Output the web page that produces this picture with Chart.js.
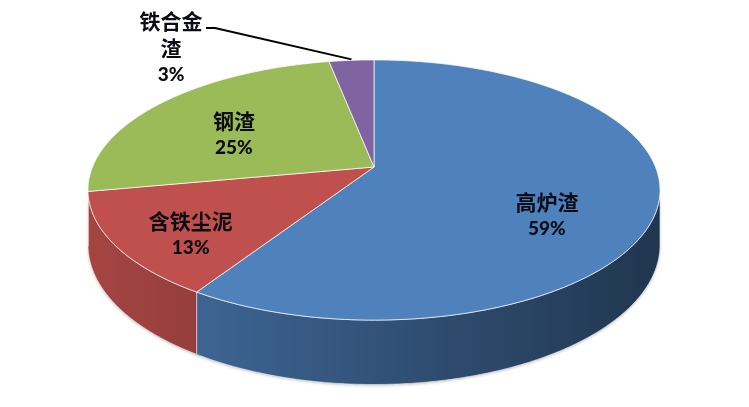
<!DOCTYPE html>
<html>
<head>
<meta charset="utf-8">
<script src="https://cdn.jsdelivr.net/npm/chart.js@4.4.1/dist/chart.umd.min.js"></script>
<style>
  html, body { margin: 0; background: #fff; }
  #wrap { width: 749px; height: 407px; }
</style>
</head>
<body>
<div id="wrap"><canvas id="pie" width="749" height="407"></canvas></div>
<script>
// --- data ---
const categories = ["高炉渣", "含铁尘泥", "钢渣", "铁合金渣"];
const percents = [59, 13, 25, 3];
const labelLines = [["高炉渣"], ["含铁尘泥"], ["钢渣"], ["铁合金", "渣"]];

// --- look ---
const topColors = ["#4f81bd", "#c0504d", "#9bbb59", "#8064a2"];

// tilted disc seen in perspective (fitted to the picture)
const view = { cx: 374, cy: 167, A: 126, B: 281.5, k: 0.177, T: 53 };

// where each label sits: radius on the disc + vertical nudge, or fixed spot outside
const labelSpot = [
  { r: 0.62, dy: 26 },
  { r: 0.73, dy: 12 },
  { r: 0.64, dy: 10 },
  { x: 171, y: 48, leader: [[206, 28], [215, 28]] }
];

function proj(a, r, h) {
  const x = Math.cos(a) * r, z = Math.sin(a) * r;
  const s = 1 / (1 - view.k * z);
  return [view.cx + view.B * x * s, view.cy + view.A * z * s + h * view.T * s];
}

function hexRgb(hex) {
  const n = parseInt(hex.slice(1), 16);
  return [(n >> 16) & 255, (n >> 8) & 255, n & 255];
}

function shade(hex, f) {
  const c = hexRgb(hex).map(v => Math.round(v * f));
  return `rgb(${c[0]},${c[1]},${c[2]})`;
}

function arcPoints(a0, a1, r, h) {
  const pts = [];
  const n = Math.max(2, Math.ceil(Math.abs(a1 - a0) / 0.01));
  for (let i = 0; i <= n; i++) pts.push(proj(a0 + (a1 - a0) * i / n, r, h));
  return pts;
}

const pie3d = {
  id: "pie3d",
  beforeDatasetsDraw(chart) {
    const ctx = chart.ctx;
    const arcs = chart.getDatasetMeta(0).data;
    const lo = Math.asin(view.k), hi = Math.PI - Math.asin(view.k);
    const left = proj(Math.PI - lo, 1, 0)[0], right = proj(lo, 1, 0)[0];

    ctx.save();
    // outer walls, only the part that faces us
    arcs.forEach((arc, i) => {
      const a0 = Math.max(arc.startAngle, lo), a1 = Math.min(arc.endAngle, hi);
      if (a1 <= a0) return;
      const top = arcPoints(a0, a1, 1, 0);
      const bot = arcPoints(a0, a1, 1, 1).reverse();
      ctx.beginPath();
      top.concat(bot).forEach((p, j) => j ? ctx.lineTo(p[0], p[1]) : ctx.moveTo(p[0], p[1]));
      ctx.closePath();
      const g = ctx.createLinearGradient(left, 0, right, 0);
      g.addColorStop(0, shade(topColors[i], 0.86));
      g.addColorStop(1, shade(topColors[i], 0.42));
      ctx.shadowColor = "rgba(0,0,0,0.25)";
      ctx.shadowBlur = 3;
      ctx.shadowOffsetY = 1;
      ctx.fillStyle = g;
      ctx.fill();
      ctx.shadowColor = "transparent";
      ctx.strokeStyle = "rgba(255,255,255,0.55)";
      ctx.lineWidth = 1;
      ctx.stroke();
    });

    // top face
    arcs.forEach((arc, i) => {
      const pts = arcPoints(arc.startAngle, arc.endAngle, 1, 0);
      ctx.beginPath();
      ctx.moveTo(view.cx, view.cy);
      pts.forEach(p => ctx.lineTo(p[0], p[1]));
      ctx.closePath();
      ctx.fillStyle = topColors[i];
      ctx.fill();
      ctx.strokeStyle = "rgba(255,255,255,0.7)";
      ctx.lineWidth = 1;
      ctx.stroke();
    });

    // labels
    ctx.fillStyle = "#0c0c14";
    ctx.textAlign = "center";
    ctx.textBaseline = "middle";
    const lineH = 26.5;
    arcs.forEach((arc, i) => {
      const spot = labelSpot[i];
      const mid = (arc.startAngle + arc.endAngle) / 2;
      const lines = labelLines[i].concat([percents[i] + "%"]);
      let x, y;
      if (spot.leader) {
        x = spot.x; y = spot.y;
        const tip = proj(mid, 1, 0);
        ctx.beginPath();
        ctx.moveTo(spot.leader[0][0], spot.leader[0][1]);
        ctx.lineTo(spot.leader[1][0], spot.leader[1][1]);
        ctx.lineTo(tip[0], tip[1] - 1);
        ctx.strokeStyle = "#000";
        ctx.lineWidth = 2;
        ctx.stroke();
      } else {
        const p = proj(mid, spot.r, 0);
        x = p[0]; y = p[1] + spot.dy;
      }
      const y0 = y - (lines.length - 1) * lineH / 2;
      lines.forEach((t, j) => {
        const isPct = j === lines.length - 1;
        ctx.font = isPct ? "900 19px Lato" : "bold 21px 'Noto Sans CJK SC'";
        ctx.fillText(t, x, y0 + j * lineH);
      });
    });
    ctx.restore();
    return false;
  }
};

new Chart(document.getElementById("pie"), {
  type: "pie",
  data: {
    labels: categories,
    datasets: [{ data: percents, backgroundColor: topColors, borderWidth: 0 }]
  },
  options: {
    responsive: false,
    animation: false,
    events: [],
    plugins: { legend: { display: false }, tooltip: { enabled: false } }
  },
  plugins: [pie3d]
});
</script>
</body>
</html>
